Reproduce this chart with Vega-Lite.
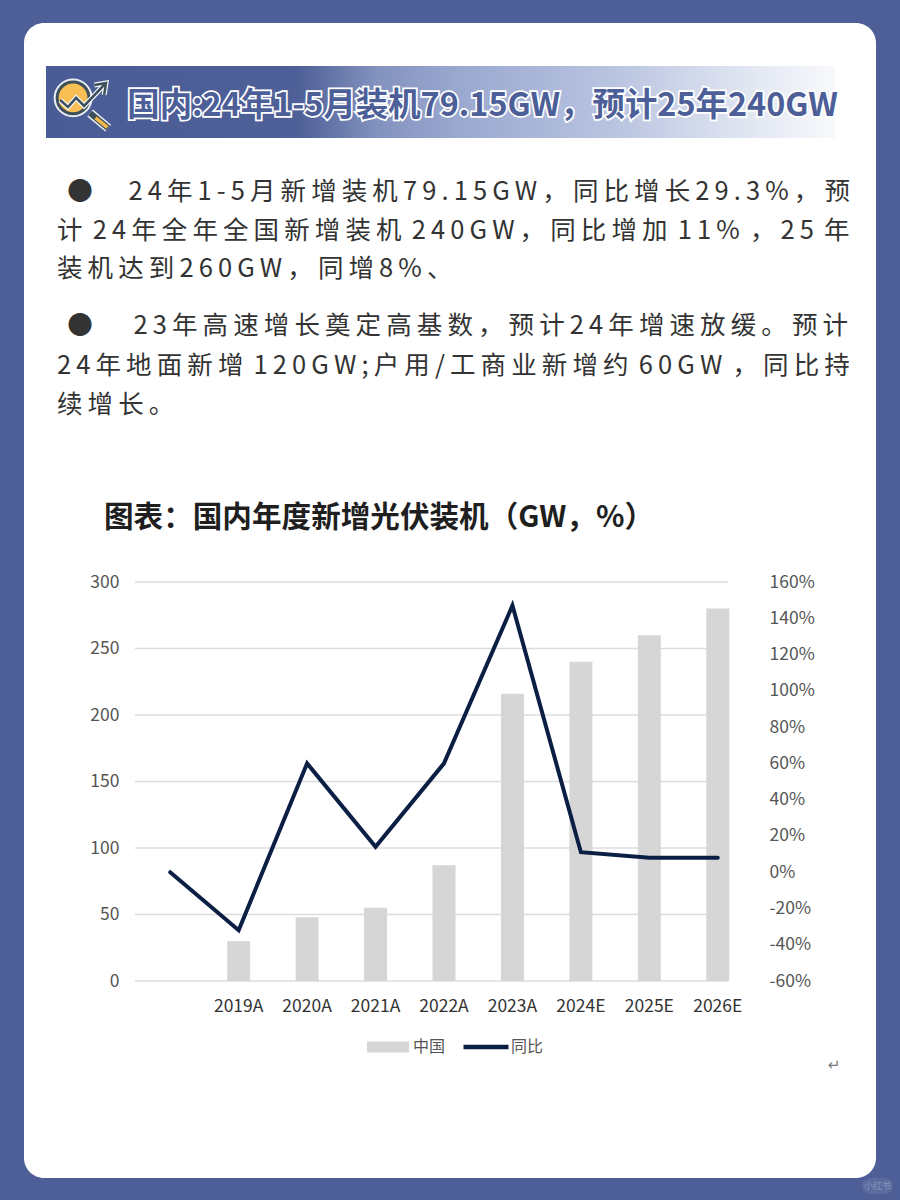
{
  "$schema": "https://vega.github.io/schema/vega-lite/v6.json",
  "autosize": {"type": "none"},
  "width": 852,
  "height": 1155,
  "padding": {"left": 24, "top": 23, "right": 24, "bottom": 22},
  "background": "#4e5f97",
  "view": {"fill": "#ffffff", "cornerRadius": 20, "stroke": null},
  "config": {"font": "Noto Sans CJK SC"},
  "datasets": {
    "capacity": [
      {"year": "", "installed": null, "yoy": 0},
      {"year": "2019A", "installed": 30, "yoy": -32},
      {"year": "2020A", "installed": 48, "yoy": 60},
      {"year": "2021A", "installed": 55, "yoy": 14},
      {"year": "2022A", "installed": 87, "yoy": 60},
      {"year": "2023A", "installed": 216, "yoy": 147},
      {"year": "2024E", "installed": 240, "yoy": 11},
      {"year": "2025E", "installed": 260, "yoy": 8},
      {"year": "2026E", "installed": 280, "yoy": 8}
    ],
    "gridlines": [
      {"gw": 0}, {"gw": 50}, {"gw": 100}, {"gw": 150}, {"gw": 200}, {"gw": 250}, {"gw": 300}
    ],
    "para1": [
      {"line": 1, "text": "\u200b\u2009\u2009●\u2003\u2009\u20092\u20094\u2009年\u20091\u2009-\u20095\u2009月\u2009新\u2009增\u2009装\u2009机\u20097\u20099\u2009.\u20091\u20095\u2009G\u2009W\u2009，\u2009同\u2009比\u2009增\u2009长\u20092\u20099\u2009.\u20093\u2009%\u2009，\u2009预"},
      {"line": 2, "text": "计\u2009\u20092\u20094\u2009年\u2009全\u2009年\u2009全\u2009国\u2009新\u2009增\u2009装\u2009机\u2009\u20092\u20094\u20090\u2009G\u2009W\u2009，\u2009同\u2009比\u2009增\u2009加\u2009\u20091\u20091\u2009%\u2009\u2009，\u20092\u20095\u2009\u2009年"},
      {"line": 3, "text": "装\u2009机\u2009达\u2009到\u20092\u20096\u20090\u2009G\u2009W\u2009，\u2009同\u2009增\u20098\u2009%\u2009、"}
    ],
    "para2": [
      {"line": 1, "text": "\u200b\u2009\u2009●\u2003\u2009\u2009\u20092\u20093\u2009年\u2009高\u2009速\u2009增\u2009长\u2009奠\u2009定\u2009高\u2009基\u2009数\u2009，\u2009预\u2009计\u20092\u20094\u2009年\u2009增\u2009速\u2009放\u2009缓\u2009。\u2009预\u2009计"},
      {"line": 2, "text": "2\u20094\u2009年\u2009地\u2009面\u2009新\u2009增\u2009\u20091\u20092\u20090\u2009G\u2009W\u2009;\u2009户\u2009用\u2009/\u2009工\u2009商\u2009业\u2009新\u2009增\u2009约\u2009\u20096\u20090\u2009G\u2009W\u2009\u2009，\u2009同\u2009比\u2009持"},
      {"line": 3, "text": "续\u2009增\u2009长\u2009。"}
    ]
  },
  "resolve": {"scale": {"x": "independent", "y": "independent", "color": "independent"}},
  "layer": [
    {
      "data": {"values": [{"name": "banner"}]},
      "mark": {
        "type": "rect",
        "color": {
          "gradient": "linear", "x1": 0, "x2": 1, "y1": 0, "y2": 0,
          "stops": [
            {"offset": 0, "color": "#4a5c95"},
            {"offset": 0.32, "color": "#4f6098"},
            {"offset": 0.42, "color": "#8392be"},
            {"offset": 0.52, "color": "#9aa8d0"},
            {"offset": 0.72, "color": "#b9c4e0"},
            {"offset": 0.9, "color": "#e3e8f3"},
            {"offset": 1, "color": "#f8f9fc"}
          ]
        }
      },
      "encoding": {
        "x": {"datum": 0, "type": "quantitative", "axis": null, "scale": {"domain": [0, 1], "range": [22, 811]}},
        "x2": {"datum": 1},
        "y": {"datum": 0, "type": "quantitative", "axis": null, "scale": {"domain": [0, 1], "range": [43, 115]}},
        "y2": {"datum": 1}
      }
    },
    {
      "data": {"values": [{"name": "icon"}]},
      "encoding": {
        "x": {"datum": 0.047, "type": "quantitative", "axis": null, "scale": {"domain": [0, 1], "range": [22, 811]}},
        "y": {"datum": 0.514, "type": "quantitative", "axis": null, "scale": {"domain": [0, 1], "range": [43, 115]}}
      },
      "layer": [
        {"mark": {"type": "point", "shape": "M0.26,0.37L0.93,0.93", "size": 2916, "filled": false, "stroke": "#e8edf5", "strokeWidth": 9, "opacity": 1}},
        {"mark": {"type": "point", "shape": "M0.26,0.37L0.93,0.93", "size": 2916, "filled": false, "stroke": "#3e4f5c", "strokeWidth": 6, "opacity": 1}},
        {"mark": {"type": "point", "shape": "M0.46,0.55L0.9,0.9", "size": 2916, "filled": false, "stroke": "#f6b94a", "strokeWidth": 3.5, "opacity": 1}},
        {"mark": {"type": "point", "shape": "M-0.96,-0.19a0.59,0.59 0 1,0 1.18,0a0.59,0.59 0 1,0 -1.18,0Z", "size": 2916, "filled": false, "stroke": "#e8edf5", "strokeWidth": 7, "opacity": 1}},
        {"mark": {"type": "point", "shape": "M-0.96,-0.19a0.59,0.59 0 1,0 1.18,0a0.59,0.59 0 1,0 -1.18,0Z", "size": 2916, "filled": true, "fill": "#f9bf55", "stroke": "#3e4f5c", "strokeWidth": 3, "opacity": 1}},
        {"mark": {"type": "point", "shape": "M-0.85,-0.11L-0.56,0.15L-0.26,-0.19L0.04,0.11L0.78,-0.67M0.42,-0.67L0.85,-0.74L0.78,-0.3", "size": 2916, "filled": false, "stroke": "#f4f6fa", "strokeWidth": 5, "opacity": 1}},
        {"mark": {"type": "point", "shape": "M-0.85,-0.11L-0.56,0.15L-0.26,-0.19L0.04,0.11L0.78,-0.67M0.42,-0.67L0.85,-0.74L0.78,-0.3", "size": 2916, "filled": false, "stroke": "#3e4f5c", "strokeWidth": 2.5, "opacity": 1}}
      ]
    },
    {
      "data": {"values": [{"label": "国内:24年1-5月装机79.15GW，预计25年240GW"}]},
      "encoding": {
        "x": {"datum": 0.103, "type": "quantitative", "axis": null, "scale": {"domain": [0, 1], "range": [22, 811]}},
        "y": {"datum": 0.55, "type": "quantitative", "axis": null, "scale": {"domain": [0, 1], "range": [43, 115]}},
        "text": {"field": "label"}
      },
      "layer": [
        {"mark": {"type": "text", "align": "left", "baseline": "middle", "fontSize": 32.4, "fontWeight": "bold", "font": "Noto Sans CJK SC", "stroke": "#ffffff", "strokeWidth": 3.5, "fill": "#ffffff"}},
        {"mark": {"type": "text", "align": "left", "baseline": "middle", "fontSize": 32.4, "fontWeight": "bold", "font": "Noto Sans CJK SC", "fill": "#4d5f98"}}
      ]
    },
    {
      "data": {"name": "para1"},
      "mark": {"type": "text", "align": "left", "baseline": "middle", "fontSize": 25.5, "font": "Noto Sans CJK SC", "fill": "#333333"},
      "encoding": {
        "x": {"datum": 0, "type": "quantitative", "axis": null, "scale": {"domain": [0, 1], "range": [33, 825]}},
        "y": {"field": "line", "type": "quantitative", "axis": null, "scale": {"domain": [1, 3], "range": [169, 246]}},
        "text": {"field": "text"}
      }
    },
    {
      "data": {"name": "para2"},
      "mark": {"type": "text", "align": "left", "baseline": "middle", "fontSize": 25.5, "font": "Noto Sans CJK SC", "fill": "#333333"},
      "encoding": {
        "x": {"datum": 0, "type": "quantitative", "axis": null, "scale": {"domain": [0, 1], "range": [33, 825]}},
        "y": {"field": "line", "type": "quantitative", "axis": null, "scale": {"domain": [1, 3], "range": [303, 382]}},
        "text": {"field": "text"}
      }
    },
    {
      "data": {"values": [{"label": "图表：国内年度新增光伏装机（GW，%）"}]},
      "mark": {"type": "text", "align": "left", "baseline": "middle", "fontSize": 29.6, "fontWeight": "bold", "font": "Noto Sans CJK SC", "fill": "#1f1f1f"},
      "encoding": {
        "x": {"datum": 0, "type": "quantitative", "axis": null, "scale": {"domain": [0, 1], "range": [80, 800]}},
        "y": {"datum": 0, "type": "quantitative", "axis": null, "scale": {"domain": [0, 1], "range": [495, 540]}},
        "text": {"field": "label"}
      }
    },
    {
      "data": {"name": "gridlines"},
      "mark": {"type": "rule", "color": "#dcdcdc", "strokeWidth": 1.5},
      "encoding": {
        "x": {"datum": 0, "type": "quantitative", "axis": null, "scale": {"domain": [0, 1], "range": [111, 704]}},
        "x2": {"datum": 1},
        "y": {
          "field": "gw", "type": "quantitative",
          "scale": {"domain": [0, 300], "range": [958, 559]},
          "axis": {
            "orient": "left", "offset": -95, "title": null, "values": [0, 50, 100, 150, 200, 250, 300],
            "domain": false, "ticks": false, "grid": false, "labelPadding": 0,
            "labelFontSize": 17.5, "labelColor": "#555555", "labelFont": "Noto Sans CJK SC"
          }
        }
      }
    },
    {
      "data": {"name": "capacity"},
      "mark": {"type": "bar", "size": 23},
      "encoding": {
        "x": {
          "field": "year", "type": "nominal", "sort": null,
          "scale": {
            "type": "band", "paddingInner": 0, "paddingOuter": 0, "range": [112, 728],
            "domain": ["", "2019A", "2020A", "2021A", "2022A", "2023A", "2024E", "2025E", "2026E"]
          },
          "axis": {
            "orient": "bottom", "offset": -181, "title": null, "labelAngle": 0,
            "values": ["2019A", "2020A", "2021A", "2022A", "2023A", "2024E", "2025E", "2026E"],
            "domain": false, "ticks": false, "grid": false, "labelPadding": 0,
            "labelFontSize": 17.5, "labelColor": "#333333", "labelFont": "Noto Sans CJK SC"
          }
        },
        "y": {"field": "installed", "type": "quantitative", "axis": null, "scale": {"domain": [0, 300], "range": [958, 559]}},
        "color": {
          "datum": "中国",
          "scale": {"domain": ["中国"], "range": ["#d6d6d6"]},
          "legend": {
            "orient": "none", "legendX": 343, "legendY": 1003, "title": null,
            "symbolType": "M-1,-0.26H1V0.26H-1Z", "symbolSize": 1764, "symbolStrokeWidth": 0,
            "labelFontSize": 16, "labelColor": "#555555", "labelFont": "Noto Sans CJK SC", "labelOffset": 4
          }
        }
      }
    },
    {
      "data": {"name": "capacity"},
      "mark": {"type": "line", "strokeWidth": 4, "strokeCap": "round"},
      "encoding": {
        "x": {
          "field": "year", "type": "nominal", "sort": null, "axis": null,
          "scale": {
            "type": "band", "paddingInner": 0, "paddingOuter": 0, "range": [112, 728],
            "domain": ["", "2019A", "2020A", "2021A", "2022A", "2023A", "2024E", "2025E", "2026E"]
          }
        },
        "y": {
          "field": "yoy", "type": "quantitative",
          "scale": {"domain": [-60, 160], "range": [958, 559]},
          "axis": {
            "orient": "right", "offset": -107, "title": null,
            "values": [-60, -40, -20, 0, 20, 40, 60, 80, 100, 120, 140, 160],
            "labelExpr": "datum.value + '%'",
            "domain": false, "ticks": false, "grid": false, "labelPadding": 0,
            "labelFontSize": 17.5, "labelColor": "#555555", "labelFont": "Noto Sans CJK SC"
          }
        },
        "color": {
          "datum": "同比",
          "scale": {"domain": ["同比"], "range": ["#0b1f45"]},
          "legend": {
            "orient": "none", "legendX": 437, "legendY": 999, "title": null,
            "symbolType": "stroke", "symbolSize": 2025, "symbolStrokeWidth": 4.5,
            "labelFontSize": 16, "labelColor": "#555555", "labelFont": "Noto Sans CJK SC", "labelOffset": 0
          }
        }
      }
    },
    {
      "data": {"values": [{"label": "↵"}]},
      "mark": {"type": "text", "align": "center", "baseline": "middle", "fontSize": 15, "font": "DejaVu Sans", "fill": "#777777"},
      "encoding": {
        "x": {"datum": 0, "type": "quantitative", "axis": null, "scale": {"domain": [0, 1], "range": [810, 830]}},
        "y": {"datum": 0, "type": "quantitative", "axis": null, "scale": {"domain": [0, 1], "range": [1042, 1060]}},
        "text": {"field": "label"}
      }
    },
    {
      "data": {"values": [{"label": "小红书"}]},
      "mark": {"type": "rect", "fill": "#ffffff", "opacity": 0.08, "cornerRadius": 8},
      "encoding": {
        "x": {"datum": 0, "type": "quantitative", "axis": null, "scale": {"domain": [0, 1], "range": [838, 869]}},
        "x2": {"datum": 1},
        "y": {"datum": 0, "type": "quantitative", "axis": null, "scale": {"domain": [0, 1], "range": [1155, 1171]}},
        "y2": {"datum": 1}
      }
    },
    {
      "data": {"values": [{"label": "小红书"}]},
      "mark": {"type": "text", "align": "center", "baseline": "middle", "fontSize": 9, "font": "Noto Sans CJK SC", "fill": "#ffffff", "opacity": 0.25},
      "encoding": {
        "x": {"datum": 0.5, "type": "quantitative", "axis": null, "scale": {"domain": [0, 1], "range": [838, 869]}},
        "y": {"datum": 0.5, "type": "quantitative", "axis": null, "scale": {"domain": [0, 1], "range": [1155, 1171]}},
        "text": {"field": "label"}
      }
    }
  ]
}
